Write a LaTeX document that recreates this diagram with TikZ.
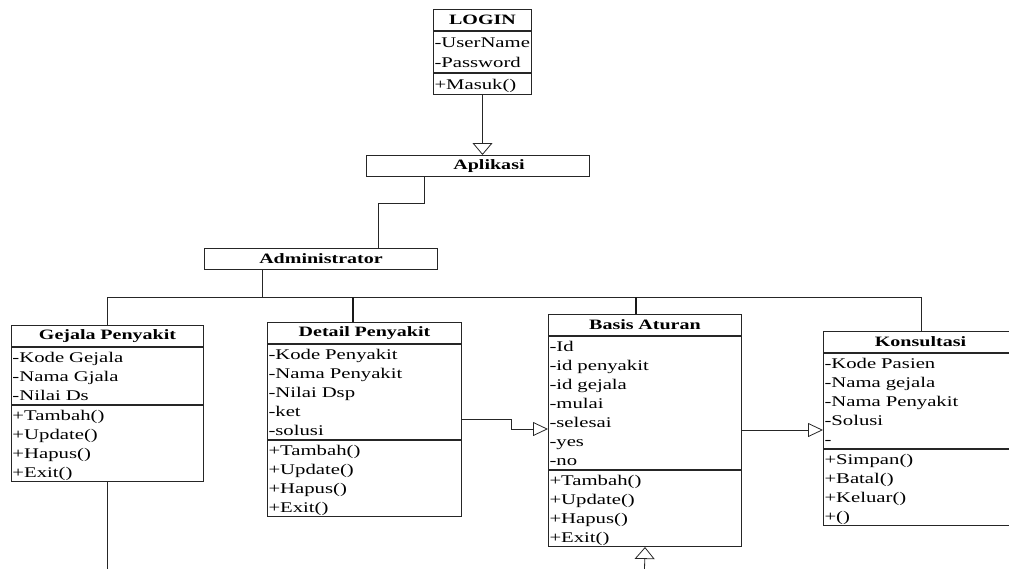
\documentclass[tikz,border=0pt]{standalone}
\usepackage{fontspec}
\setmainfont{Liberation Serif}[FakeStretch=1.4]
\usetikzlibrary{arrows.meta}
% one compartment row: 14.5pt above the baseline, 4.5pt below
\newcommand\rowstrut{\rule[-4.5pt]{0pt}{19pt}}
\newcommand\loginstrut{\rule[-5pt]{0pt}{20.5pt}}
\begin{document}
\begin{tikzpicture}[x=1pt,y=-1pt,
  classname/.style={draw=black!85, line width=1pt, inner sep=0pt, minimum height=21pt,
    align=center, font=\fontsize{14.3}{17}\selectfont\bfseries, anchor=north west},
  members/.style={draw=black!85, line width=1pt, inner xsep=1pt, inner ysep=0pt,
    align=left, font=\fontsize{14.8}{19}\selectfont, anchor=north west,
    execute at begin node=\rowstrut, execute at end node=\rowstrut},
  loginrows/.style={members, font=\fontsize{14.8}{20.5}\selectfont,
    execute at begin node=\loginstrut, execute at end node=\loginstrut},
  wire/.style={draw=black!85, line width=0.8pt},
  heavywire/.style={draw=black!90, line width=1.6pt},
  gen/.style={wire, -{Triangle[open, length=12pt, width=20pt]}},
  genh/.style={wire, -{Triangle[open, length=15pt, width=14pt]}},
]
\useasboundingbox (0,0) rectangle (1009,568);
\clip (0,0) rectangle (1009,568);

% ---- LOGIN ----
\node[classname, text width=98pt] (login) at (433,9) {LOGIN};
\node[loginrows, text width=96pt] (login-a) at (login.south west) {-UserName\\-Password};
\node[loginrows, text width=96pt] (login-m) at (login-a.south west) {+Masuk()};

% ---- Aplikasi / Administrator ----
\node[classname, text width=223pt] (aplikasi) at (366,155) {\hspace*{22pt}Aplikasi};
\node[classname, text width=233pt] (admin) at (204,248) {Administrator};

% ---- Gejala Penyakit ----
\node[classname, text width=192pt] (gejala) at (11,325) {Gejala Penyakit};
\node[members, text width=190pt] (gejala-a) at (gejala.south west)
  {-Kode Gejala\\-Nama Gjala\\-Nilai Ds};
\node[members, text width=190pt] (gejala-m) at (gejala-a.south west)
  {+Tambah()\\+Update()\\+Hapus()\\+Exit()};

% ---- Detail Penyakit ----
\node[classname, text width=194pt] (detail) at (267,322) {Detail Penyakit};
\node[members, text width=192pt] (detail-a) at (detail.south west)
  {-Kode Penyakit\\-Nama Penyakit\\-Nilai Dsp\\-ket\\-solusi};
\node[members, text width=192pt] (detail-m) at (detail-a.south west)
  {+Tambah()\\+Update()\\+Hapus()\\+Exit()};

% ---- Basis Aturan ----
\node[classname, text width=193pt] (basis) at (548,314) {Basis Aturan};
\node[members, text width=191pt] (basis-a) at (basis.south west)
  {-Id\\-id penyakit\\-id gejala\\-mulai\\-selesai\\-yes\\-no};
\node[members, text width=191pt] (basis-m) at (basis-a.south west)
  {+Tambah()\\+Update()\\+Hapus()\\+Exit()};

% ---- Konsultasi ----
\node[classname, text width=194pt] (konsul) at (823,331) {Konsultasi};
\node[members, text width=192pt] (konsul-a) at (konsul.south west)
  {-Kode Pasien\\-Nama gejala\\-Nama Penyakit\\-Solusi\\-};
\node[members, text width=192pt] (konsul-m) at (konsul-a.south west)
  {+Simpan()\\+Batal()\\+Keluar()\\+()};

% ---- bend and junction points ----
\coordinate (b1) at (424,203);
\coordinate (b2) at (378,203);
\coordinate (a1) at (262,297);
\coordinate (busL) at (107,297);
\coordinate (busR) at (921,297);
\coordinate (d1) at (353,297);
\coordinate (d2) at (636,297);
\coordinate (gend) at (107,570);
\coordinate (e1) at (511,419);
\coordinate (e2) at (511,429);
\coordinate (f1) at (780,430);
\coordinate (bend) at (644.5,570);

% ---- connectors ----
\draw[gen] (login-m.south) -- (login-m.south |- aplikasi.north);
\draw[wire] (b1 |- aplikasi.south) -- (b1) -- (b2) -- (b2 |- admin.north);
\draw[wire] (a1 |- admin.south) -- (a1);
\draw[wire] (busL) -- (busR);
\draw[wire] (busL) -- (busL |- gejala.north);
\draw[heavywire] (d1) -- (d1 |- detail.north);
\draw[heavywire] (d2) -- (d2 |- basis.north);
\draw[wire] (busR) -- (busR |- konsul.north);
\draw[wire] (gejala-m.south) -- (gejala-m.south |- gend);
\draw[genh] (e1 -| detail-a.east) -- (e1) -- (e2) -- (e2 -| basis-a.west);
\draw[genh] (f1 -| basis-a.east) -- (f1 -| konsul-a.west);
\draw[gen] (bend) -- (basis-m.south);
\end{tikzpicture}
\end{document}
